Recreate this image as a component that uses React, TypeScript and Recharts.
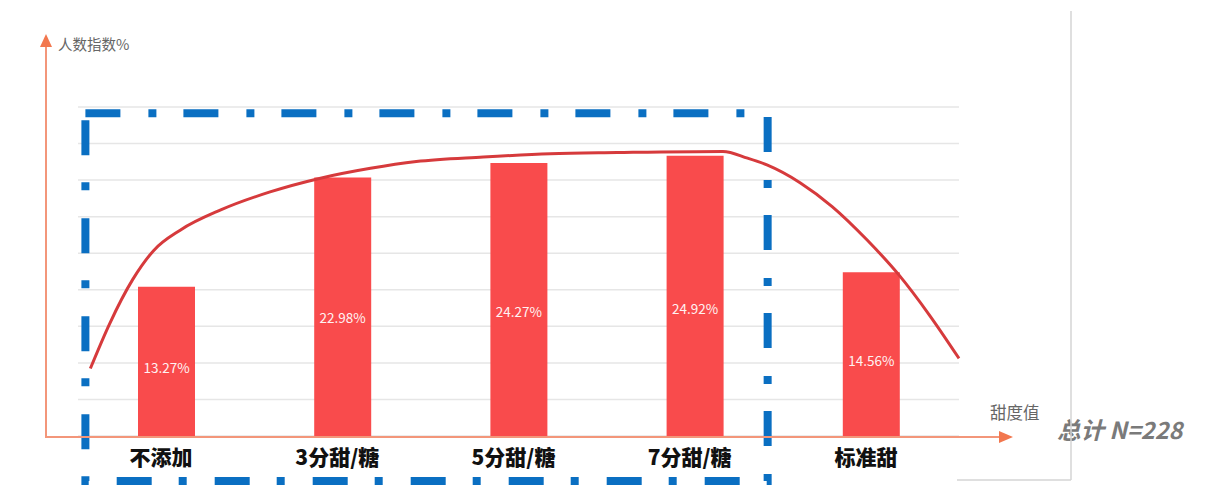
import React from 'react';
import { ComposedChart, Bar, Line, XAxis, YAxis, CartesianGrid, LabelList, ReferenceArea } from 'recharts';

const categories = ['不添加', '3分甜/糖', '5分甜/糖', '7分甜/糖', '标准甜'];
const shares = [13.27, 22.98, 24.27, 24.92, 14.56];
const yTicks = [0, 3.25, 6.5, 9.75, 13, 16.25, 19.5, 22.75, 26, 29.25];

// hand-drawn trend curve (t = position along the category axis)
const curveT = [0.07, 0.18, 0.31, 0.43, 0.58, 0.81, 1.09, 1.37, 1.66, 1.92, 2.3, 2.68, 3.06, 3.66, 3.8, 3.91, 4.1, 4.28, 4.48, 4.66, 4.83, 5.0];
const curveV = [6.0, 10.0, 13.9, 16.5, 18.3, 20.1, 21.7, 22.9, 23.8, 24.4, 24.8, 25.1, 25.2, 25.3, 24.7, 24.1, 22.5, 20.4, 17.4, 14.3, 10.8, 6.9];

const barData = categories.map((name, i) => ({ name, value: shares[i] }));
const curveData = curveT.map((t, i) => ({ t, v: curveV[i] }));

const FONT = '"Noto Sans CJK SC", "Noto Sans", sans-serif';

const BarLabel = (props: any) => {
  const { x, y, width, height, value } = props;
  return (
    <text
      x={x + width / 2}
      y={y + height * 0.55}
      textAnchor="middle"
      dominantBaseline="middle"
      fill="#fff2f2"
      fontSize={13.5}
      fontFamily={FONT}
    >
      {value.toFixed(2)}%
    </text>
  );
};

export default function App() {
  return (
    <div style={{ position: 'absolute', left: 0, top: 0, width: 1217, height: 486, background: '#fff', fontFamily: FONT }}>
      <ComposedChart
        width={1217}
        height={486}
        data={barData}
        margin={{ top: 107, right: 258, bottom: 20, left: 78 }}
      >
        <CartesianGrid
          xAxisId="cat"
          yAxisId="y"
          vertical={false}
          stroke="#e6e6e6"
          strokeWidth={1.5}
        />
        <XAxis
          xAxisId="cat"
          dataKey="name"
          height={30}
          axisLine={false}
          tickLine={false}
          tickMargin={8}
          tick={{ fontSize: 21, fontWeight: 900, fill: '#111', fontFamily: FONT, dx: -5 }}
        />
        <XAxis xAxisId="t" dataKey="t" type="number" domain={[0, 5]} hide />
        <YAxis
          yAxisId="y"
          width={0}
          domain={[0, 29.25]}
          ticks={yTicks}
          interval={0}
          axisLine={false}
          tickLine={false}
          tick={{ fill: 'transparent', fontSize: 1 }}
        />
        <Bar xAxisId="cat" yAxisId="y" dataKey="value" fill="#f94b4c" barSize={57} isAnimationActive={false}>
          <LabelList dataKey="value" content={<BarLabel />} />
        </Bar>
        <Line
          xAxisId="t"
          yAxisId="y"
          data={curveData}
          dataKey="v"
          type="monotone"
          stroke="#d63a3c"
          strokeWidth={3}
          dot={false}
          activeDot={false}
          isAnimationActive={false}
        />
        <ReferenceArea
          xAxisId="t"
          yAxisId="y"
          x1={0.042}
          x2={3.914}
          y1={-4.0}
          y2={28.7}
          ifOverflow="visible"
          fill="none"
          fillOpacity={0}
          stroke="#0a6fc2"
          strokeWidth={8}
          strokeDasharray="35 28 8 27"
        />
      </ComposedChart>
      <svg width={1217} height={486} style={{ position: 'absolute', left: 0, top: 0, pointerEvents: 'none' }}>
        <line x1={46} y1={437} x2={46} y2={44} stroke="#f3967a" strokeWidth={2} />
        <polygon points="46,34 40,47 52,47" fill="#f2774e" />
        <line x1={45} y1={437} x2={1000} y2={437} stroke="#f3967a" strokeWidth={2} />
        <polygon points="1013,437 999,431 999,443" fill="#f2774e" />
        <text x={58} y={50} fontSize={14.5} fill="#666" fontFamily={FONT}>人数指数%</text>
        <text x={990} y={419} fontSize={16.5} fill="#666" fontFamily={FONT}>甜度值</text>
        <text x={1057} y={439} fontSize={23.5} fontWeight={700} fontStyle="italic" fill="#7a7a7a" fontFamily={FONT}>总计 N=228</text>
        <line x1={1071} y1={11} x2={1071} y2={480} stroke="#d4d4d4" strokeWidth={1.5} />
        <line x1={957} y1={480} x2={1071} y2={480} stroke="#d4d4d4" strokeWidth={1.5} />
      </svg>
    </div>
  );
}
